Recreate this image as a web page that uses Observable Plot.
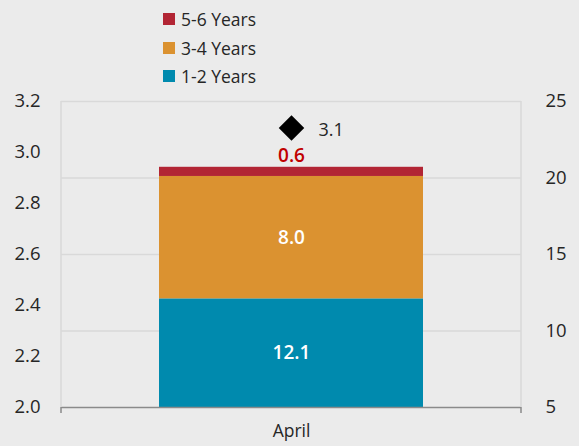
<!DOCTYPE html>
<html>
<head>
<meta charset="utf-8">
<script src="https://cdn.jsdelivr.net/npm/d3@7"></script>
<script src="https://cdn.jsdelivr.net/npm/@observablehq/plot@0.6"></script>
<style>
  html, body { margin: 0; padding: 0; background: #ebebeb; }
  #wrap { position: relative; width: 579px; height: 446px; background: #ebebeb; font-family: "Open Sans", "Noto Sans", sans-serif; }
  #legend { position: absolute; left: 163px; top: 5px; z-index: 2; }
  .item { display: flex; align-items: center; height: 28.5px; font-size: 17.5px; color: #262626; }
  .sw { width: 12px; height: 12px; margin-right: 6px; }
</style>
</head>
<body>
<div id="wrap">
  <div id="legend"></div>
  <div id="chart"></div>
</div>
<script>
const categories = ["April"];
const series = ["1-2 Years", "3-4 Years", "5-6 Years"];
const colors = ["#008aae", "#db9230", "#b22534"];
const values = [12.1, 8.0, 0.6];
const diamondValue = 3.1;
const leftTicks = [2.0, 2.2, 2.4, 2.6, 2.8, 3.0, 3.2];
const rightTicks = [5, 10, 15, 20, 25];
const leftDomain = [2.0, 3.2];
const rightDomain = [5, 25];

const toRight = v => rightDomain[0] + (v - leftDomain[0]) / (leftDomain[1] - leftDomain[0]) * (rightDomain[1] - rightDomain[0]);
const fromRight = v => leftDomain[0] + (v - rightDomain[0]) / (rightDomain[1] - rightDomain[0]) * (leftDomain[1] - leftDomain[0]);

const legend = document.getElementById("legend");
series.slice().reverse().forEach(s => {
  const idx = series.indexOf(s);
  const d = document.createElement("div");
  d.className = "item";
  d.innerHTML = `<span class="sw" style="background:${colors[idx]}"></span>${s}`;
  legend.appendChild(d);
});

const barData = series.map((s, i) => ({cat: categories[0], series: s, value: values[i]}));
let cum = 0;
const labelData = series.map((s, i) => {
  const lo = cum, hi = cum + values[i];
  cum = hi;
  const visLo = Math.max(lo, rightDomain[0]);
  return {cat: categories[0], series: s, value: values[i], lo, hi, mid: (visLo + hi) / 2};
});
const inside = labelData.filter(d => d.value >= 2);
const outside = labelData.filter(d => d.value < 2);

const textColor = "#262626";
const plot = Plot.plot({
  width: 579,
  height: 446,
  marginTop: 101,
  marginBottom: 39,
  marginLeft: 61,
  marginRight: 58,
  style: {background: "transparent", fontFamily: "'Open Sans', 'Noto Sans', sans-serif", fontSize: "16px", color: textColor},
  x: {domain: categories, padding: 0.2707, axis: null, label: null},
  y: {domain: rightDomain, axis: null, label: null},
  color: {domain: series, range: colors},
  marks: [
    Plot.ruleY(rightTicks.filter(t => t > rightDomain[0]), {stroke: "#d9d9d9", strokeWidth: 1.5}),
    Plot.barY(barData, Plot.stackY({x: "cat", y: "value", fill: "series", order: series, clip: true})),
    Plot.text(inside, {x: "cat", y: "mid", text: d => d.value.toFixed(1), fill: "white", fontSize: 19, fontWeight: 600}),
    Plot.text(outside, {x: "cat", y: "hi", text: d => d.value.toFixed(1), fill: "#c00000", fontSize: 19, fontWeight: 600, dy: -11}),
    Plot.dot([diamondValue], {x: () => categories[0], y: d => toRight(d), symbol: "diamond2", r: 11.5, fill: "black", stroke: "none", dy: 1}),
    Plot.text([diamondValue], {x: () => categories[0], y: d => toRight(d), text: d => d.toFixed(1), dx: 27, dy: 3, textAnchor: "start", fontSize: 18, fill: textColor}),
    Plot.ruleY([rightDomain[0]], {stroke: "#8a8a8a", strokeWidth: 1.5}),
    Plot.axisY(leftTicks.map(toRight), {anchor: "left", tickFormat: d => fromRight(d).toFixed(1), tickSize: 0, tickPadding: 21, fontSize: 18.5, fill: textColor, label: null}),
    Plot.axisY(rightTicks, {anchor: "right", tickFormat: d => String(d), tickSize: 0, tickPadding: 24, fontSize: 18.5, fill: textColor, textAnchor: "start", label: null}),
    Plot.axisX(categories, {tickSize: 0, tickPadding: 17, fontSize: 17.5, fill: textColor, label: null})
  ]
});
document.getElementById("chart").appendChild(plot);

const svg = d3.select(plot);
const yS = plot.scale("y");
const xS = plot.scale("x");
const xl = xS.range[0], xr = xS.range[1];
const yTop = yS.apply(rightDomain[1]), yBot = yS.apply(rightDomain[0]);
[xl, xr].forEach(x => {
  svg.append("line").attr("x1", x).attr("x2", x).attr("y1", yTop).attr("y2", yBot).attr("stroke", "#d9d9d9").attr("stroke-width", 1.5);
  svg.append("line").attr("x1", x).attr("x2", x).attr("y1", yBot).attr("y2", yBot + 6).attr("stroke", "#8a8a8a").attr("stroke-width", 1.5);
});
</script>
</body>
</html>
